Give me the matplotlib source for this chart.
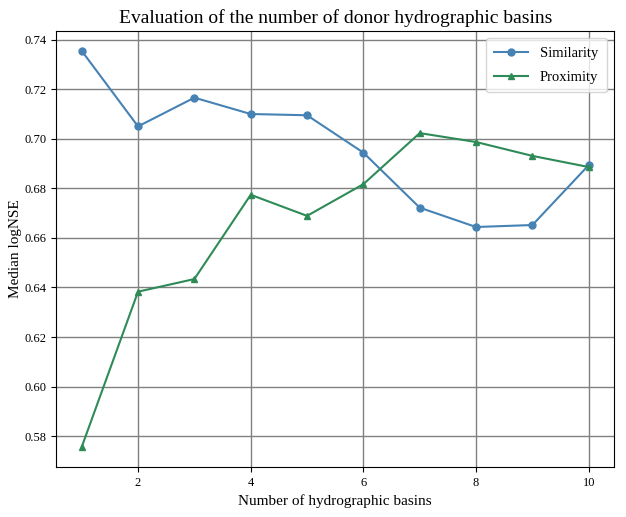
import numpy as np
import matplotlib
matplotlib.use('Agg')
import matplotlib.pyplot as plt

plt.rcParams['font.family'] = ['Liberation Serif', 'DejaVu Serif']

n_basins = [1, 2, 3, 4, 5, 6, 7, 8, 9, 10]
similarity = [0.7355, 0.7050, 0.7166, 0.7100, 0.7095, 0.6944, 0.6722, 0.6644, 0.6652, 0.6894]
proximity = [0.5756, 0.6383, 0.6434, 0.6774, 0.6689, 0.6817, 0.7023, 0.6987, 0.6931, 0.6886]

fig, ax = plt.subplots(figsize=(6.26, 5.17), dpi=100)
ax.plot(n_basins, similarity, marker='o', color='steelblue', label='Similarity', markersize=5)
ax.plot(n_basins, proximity, marker='^', color='seagreen', label='Proximity', markersize=5)

ax.set_title('Evaluation of the number of donor hydrographic basins', fontsize=14)
ax.set_xlabel('Number of hydrographic basins', fontsize=11)
ax.set_ylabel('Median logNSE', fontsize=11, labelpad=2)
ax.tick_params(labelsize=9)
ax.grid(True, color='gray', linewidth=1)
ax.legend(loc='upper right', fontsize=10.5, labelspacing=0.7, handlelength=2.3,
          borderpad=0.6)

plt.subplots_adjust(left=0.09, right=0.981, top=0.94, bottom=0.097)
plt.savefig('out.png')
